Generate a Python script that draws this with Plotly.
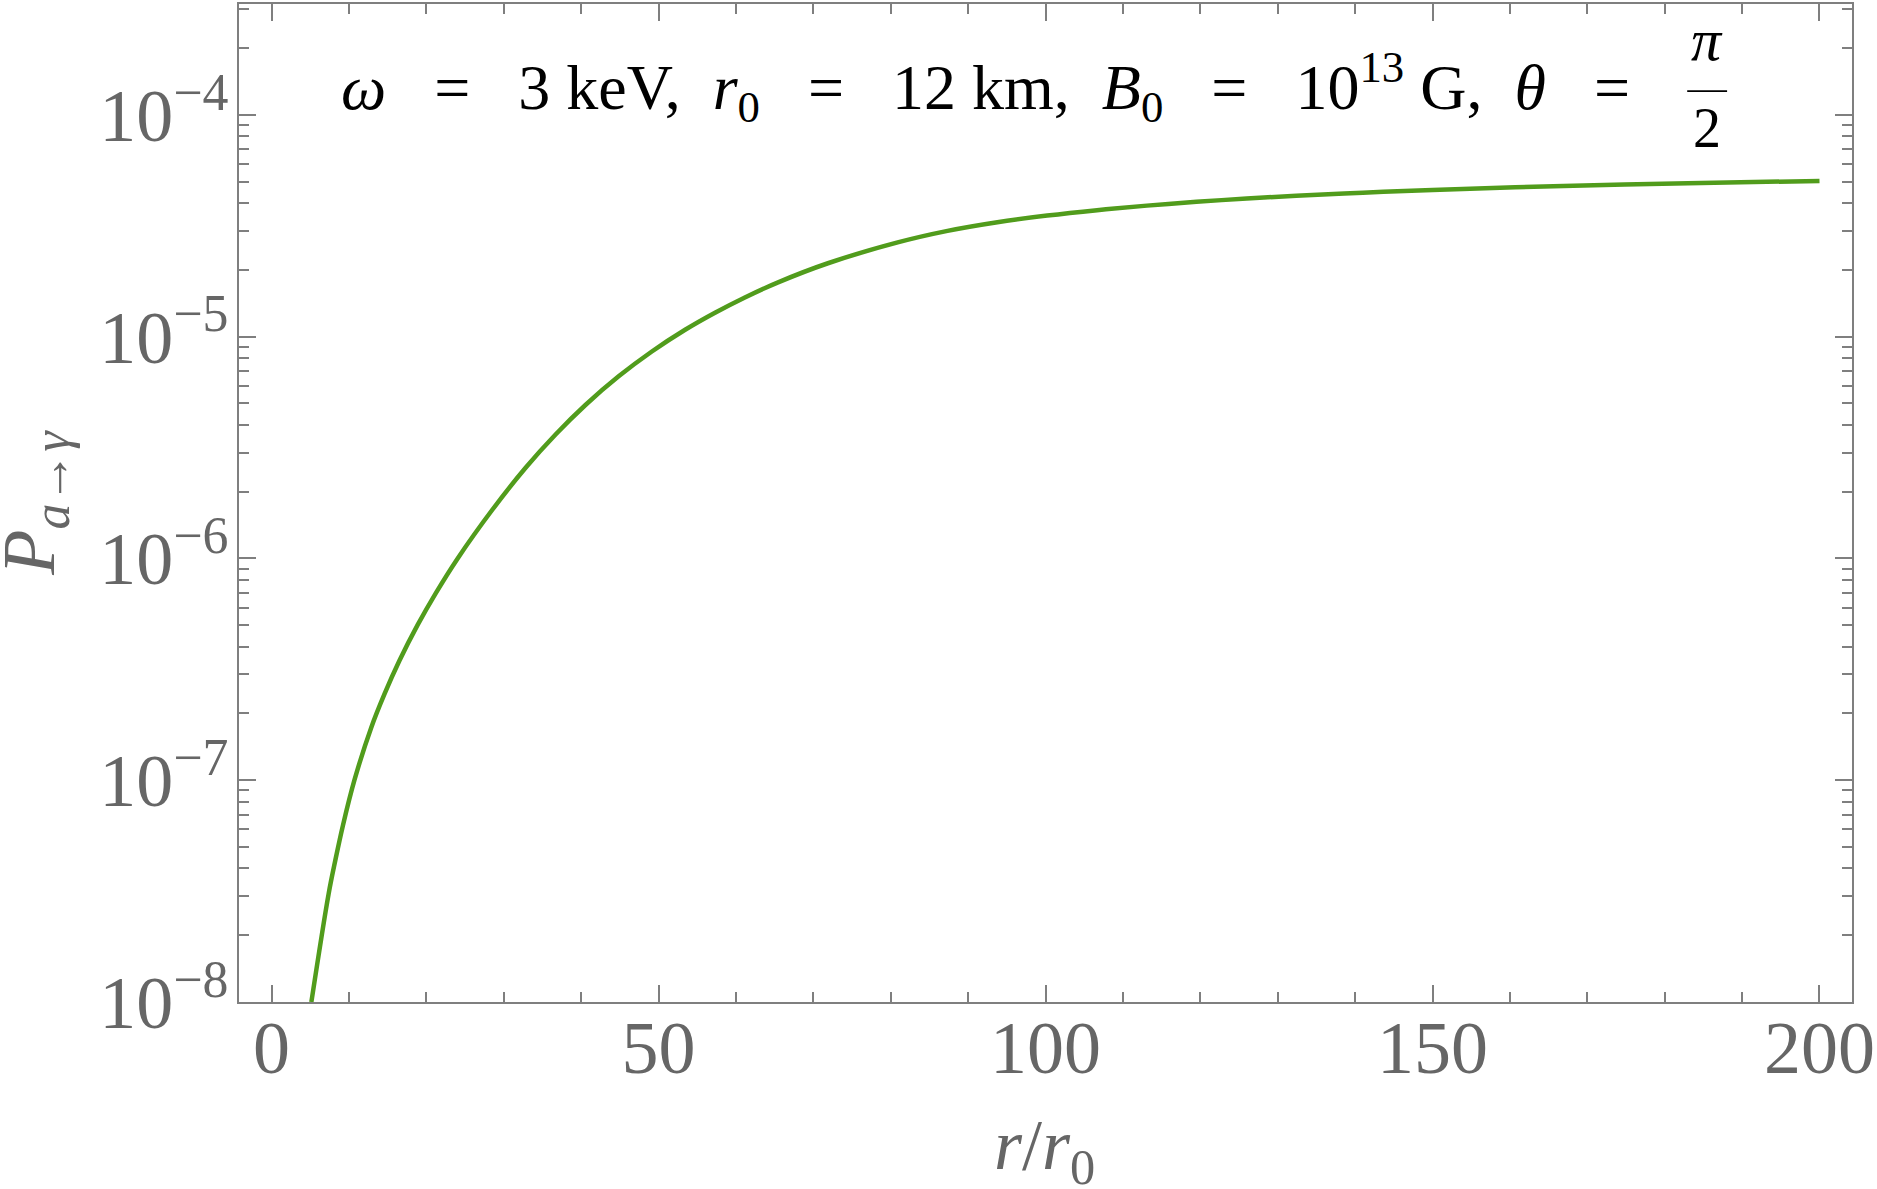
import plotly.graph_objects as go

# ---- data ----
r_over_r0 = [5.15, 7.38, 8.24, 9.22, 10.73, 12.88, 14.59, 16.52, 18.88, 21.25,
             24.03, 28.53, 32.83, 36.70, 40.56, 44.85, 49.14, 53.44, 57.30, 61.16,
             65.45, 71.89, 80.90, 87.34, 93.78, 100.22, 106.66, 113.1, 119.5, 126.0,
             132.4, 141.0, 150.0, 166.9, 183.0, 200.0]
P_a_gamma = [1.000e-8, 3.076e-8, 4.345e-8, 6.237e-8, 1.005e-7, 1.726e-7, 2.443e-7, 3.455e-7, 5.014e-7, 6.996e-7,
             9.979e-7, 1.658e-6, 2.564e-6, 3.622e-6, 4.920e-6, 6.622e-6, 8.570e-6, 1.074e-5, 1.282e-5, 1.503e-5,
             1.758e-5, 2.143e-5, 2.661e-5, 2.999e-5, 3.281e-5, 3.516e-5, 3.719e-5, 3.898e-5, 4.055e-5, 4.196e-5,
             4.317e-5, 4.459e-5, 4.587e-5, 4.780e-5, 4.920e-5, 5.037e-5]

x_tickvals = [0, 50, 100, 150, 200]
y_tickvals = [1e-8, 1e-7, 1e-6, 1e-5, 1e-4]
y_ticktext = ["10<sup>\u22128</sup>", "10<sup>\u22127</sup>", "10<sup>\u22126</sup>",
              "10<sup>\u22125</sup>", "10<sup>\u22124</sup>"]
y_minor = [m * 10.0 ** e for e in range(-8, -3) for m in range(2, 10)]

GRAY_LINE = "#7f7f7f"
GRAY_TEXT = "#666666"
SERIF = "Liberation Serif"
NB = "\u00a0"

fig = go.Figure()
fig.add_trace(go.Scatter(
    x=r_over_r0, y=P_a_gamma, mode="lines",
    line=dict(color="#519c1c", width=4.5, shape="spline", smoothing=1.0),
    showlegend=False, hoverinfo="skip"))

L, R, T, B = 239, 20, 2, 187
W, H = 1877, 1189
PW, PH = W - L - R, H - T - B

def px(X):
    return (X - L) / PW

def py(Y):
    return (H - B - Y) / PH

axis_common = dict(
    showline=True, linecolor=GRAY_LINE, linewidth=1.5, mirror="allticks",
    ticks="inside", tickcolor=GRAY_LINE, tickwidth=1.5, ticklen=17,
    showgrid=False, zeroline=False, ticklabeloverflow="allow",
    tickfont=dict(family=SERIF, size=74, color=GRAY_TEXT),
)

fig.update_xaxes(
    range=[-4.2, 204.2], tickmode="array", tickvals=x_tickvals,
    ticklabelstandoff=-20,
    minor=dict(ticks="inside", ticklen=10, tickwidth=1.5, tickcolor=GRAY_LINE,
               dtick=10, tick0=0, showgrid=False),
    **axis_common)
fig.update_yaxes(
    type="log", range=[-8, -3.5], tickmode="array",
    tickvals=y_tickvals, ticktext=y_ticktext, ticklabelstandoff=-6,
    minor=dict(ticks="inside", ticklen=10, tickwidth=1.5, tickcolor=GRAY_LINE,
               tickmode="array", tickvals=y_minor, showgrid=False),
    **axis_common)

S2 = NB * 3
title_main = (f"<i>ω</i>{S2}={S2}3{NB}keV,{NB}{NB}<i>r</i><sub>0</sub>{S2}={S2}12{NB}km,"
              f"{NB}{NB}<i>B</i><sub>0</sub>{S2}={S2}10<sup>13</sup>{NB}G,{NB}{NB}<i>θ</i>{S2}={NB}")

annotations = [
    dict(text=title_main, xref="paper", yref="paper", x=px(1652), y=py(85),
         xanchor="right", yanchor="middle", showarrow=False,
         font=dict(family=SERIF, size=64, color="black")),
    dict(text="<i>π</i>", xref="paper", yref="paper", x=px(1711.7), y=py(38),
         xanchor="center", yanchor="middle", showarrow=False,
         font=dict(family=SERIF, size=60, color="black")),
    dict(text="2", xref="paper", yref="paper", x=px(1711.7), y=py(126),
         xanchor="center", yanchor="middle", showarrow=False,
         font=dict(family=SERIF, size=56, color="black")),
    dict(text="<i>P</i><sub><i>a</i>→<i>γ</i></sub>", xref="paper", yref="paper",
         x=px(33), y=py(502), xanchor="center", yanchor="middle", textangle=-90,
         showarrow=False, font=dict(family=SERIF, size=74, color=GRAY_TEXT)),
    dict(text="<i>r</i>/<i>r</i><sub>0</sub>", xref="paper", yref="paper",
         x=px(1047), y=py(1150), xanchor="center", yanchor="middle",
         showarrow=False, font=dict(family=SERIF, size=72, color=GRAY_TEXT)),
]

shapes = [dict(type="line", xref="paper", yref="paper",
               x0=px(1691.7), x1=px(1731.7), y0=py(89.3), y1=py(89.3),
               line=dict(color="black", width=1.6))]

fig.update_layout(
    width=W, height=H, autosize=False,
    margin=dict(l=L, r=R, t=T, b=B, pad=0),
    paper_bgcolor="white", plot_bgcolor="white",
    annotations=annotations, shapes=shapes,
)

fig.write_html("out.html")
